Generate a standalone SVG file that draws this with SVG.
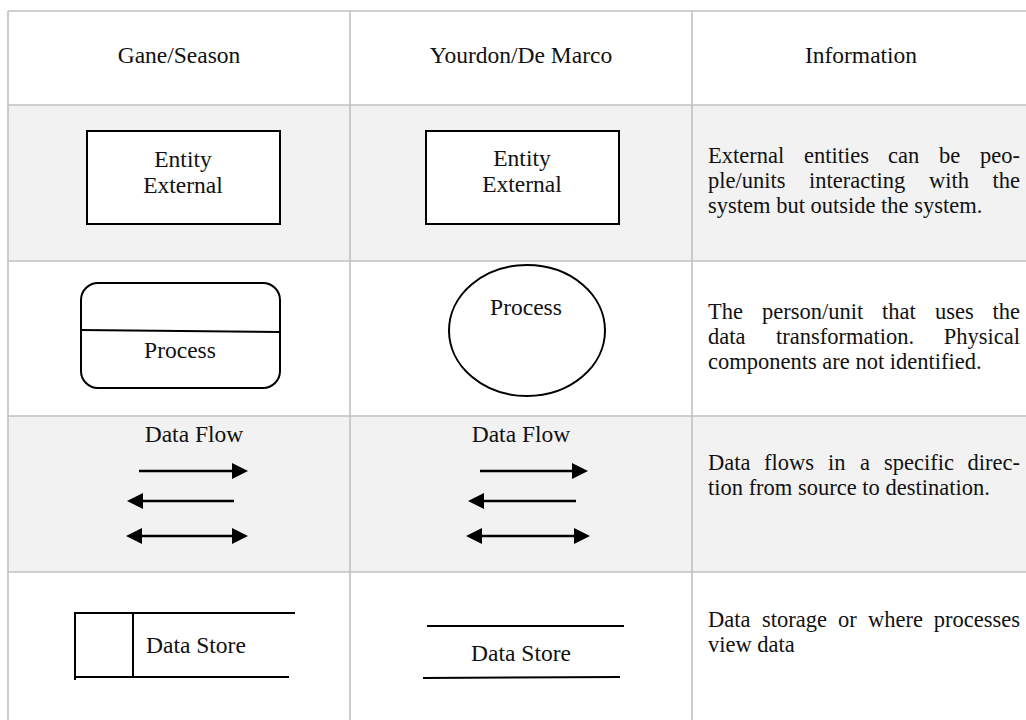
<svg xmlns="http://www.w3.org/2000/svg" width="1026" height="720" viewBox="0 0 1026 720">
  <style>
    text { font-family: "Liberation Serif", "Times New Roman", serif; font-size: 23.5px; fill: #111; }
    .c { text-anchor: middle; }
    .info { font-size: 22.5px; }
    .grid { stroke: #c0c0c0; stroke-width: 1.6; fill: none; }
    .shape { stroke: #000; stroke-width: 2; fill: #fff; }
    .ln { stroke: #000; stroke-width: 2; fill: none; }
    .flow { stroke: #000; stroke-width: 2.6; fill: none; }
  </style>
  <defs>
    <marker id="ah" viewBox="0 0 16 16" refX="6" refY="8" markerWidth="16" markerHeight="16" markerUnits="userSpaceOnUse" orient="auto-start-reverse">
      <path d="M0,0 L16,8 L0,16 z" fill="#000"/>
    </marker>
  </defs>

  <rect width="1026" height="720" fill="#fff"/>

  <g id="table">
    <rect x="8" y="105" width="1018" height="156" fill="#f2f2f2"/>
    <rect x="8" y="416" width="1018" height="156" fill="#f2f2f2"/>
    <line class="grid" x1="8" y1="11" x2="1026" y2="11"/>
    <line class="grid" x1="8" y1="105" x2="1026" y2="105"/>
    <line class="grid" x1="8" y1="261" x2="1026" y2="261"/>
    <line class="grid" x1="8" y1="416" x2="1026" y2="416"/>
    <line class="grid" x1="8" y1="572" x2="1026" y2="572"/>
    <line class="grid" x1="8" y1="11" x2="8" y2="720"/>
    <line class="grid" x1="350" y1="11" x2="350" y2="720"/>
    <line class="grid" x1="692" y1="11" x2="692" y2="720"/>
  </g>

  <g id="header">
    <text class="c" x="179" y="63">Gane/Season</text>
    <text class="c" x="521" y="63">Yourdon/De Marco</text>
    <text class="c" x="861" y="63">Information</text>
  </g>

  <g id="gane-entity">
    <rect class="shape" x="87" y="131" width="193" height="93"/>
    <text class="c" x="183" y="167">Entity</text>
    <text class="c" x="183" y="193">External</text>
  </g>
  <g id="yourdon-entity">
    <rect class="shape" x="426" y="131" width="193" height="93"/>
    <text class="c" x="522" y="166">Entity</text>
    <text class="c" x="522" y="192">External</text>
  </g>
  <g id="info-entity">
    <text class="info" y="163"><tspan x="708">External</tspan><tspan x="804">entities</tspan><tspan x="888">can</tspan><tspan x="939">be</tspan><tspan x="1020" text-anchor="end">peo-</tspan></text>
    <text class="info" y="188"><tspan x="708">ple/units</tspan><tspan x="809">interacting</tspan><tspan x="929">with</tspan><tspan x="1020" text-anchor="end">the</tspan></text>
    <text class="info" x="708" y="213">system but outside the system.</text>
  </g>

  <g id="gane-process">
    <rect class="shape" x="81" y="283" width="199" height="105" rx="17" ry="17"/>
    <line class="ln" x1="81" y1="330" x2="280" y2="332"/>
    <text class="c" x="180" y="358">Process</text>
  </g>
  <g id="yourdon-process">
    <ellipse class="shape" cx="527" cy="330.5" rx="78" ry="65.5"/>
    <text class="c" x="526" y="315">Process</text>
  </g>
  <g id="info-process">
    <text class="info" y="319"><tspan x="708">The</tspan><tspan x="762">person/unit</tspan><tspan x="882">that</tspan><tspan x="935">uses</tspan><tspan x="1020" text-anchor="end">the</tspan></text>
    <text class="info" y="344"><tspan x="708">data</tspan><tspan x="776">transformation.</tspan><tspan x="1020" text-anchor="end">Physical</tspan></text>
    <text class="info" x="708" y="369">components are not identified.</text>
  </g>

  <g id="gane-dataflow">
    <text class="c" x="194" y="442">Data Flow</text>
  </g>
  <g id="yourdon-dataflow">
    <text class="c" x="521" y="442">Data Flow</text>
  </g>
  <g id="connectors">
    <line class="flow" x1="139" y1="471" x2="238" y2="471" marker-end="url(#ah)"/>
    <line class="flow" x1="137" y1="501" x2="234" y2="501" marker-start="url(#ah)"/>
    <line class="flow" x1="136" y1="536" x2="238" y2="536" marker-start="url(#ah)" marker-end="url(#ah)"/>
    <line class="flow" x1="480" y1="471" x2="578" y2="471" marker-end="url(#ah)"/>
    <line class="flow" x1="478" y1="501" x2="576" y2="501" marker-start="url(#ah)"/>
    <line class="flow" x1="476" y1="536" x2="580" y2="536" marker-start="url(#ah)" marker-end="url(#ah)"/>
  </g>
  <g id="info-dataflow">
    <text class="info" y="470"><tspan x="708">Data</tspan><tspan x="764">flows</tspan><tspan x="828">in</tspan><tspan x="860">a</tspan><tspan x="884">specific</tspan><tspan x="1020" text-anchor="end">direc-</tspan></text>
    <text class="info" x="708" y="495">tion from source to destination.</text>
  </g>

  <g id="gane-datastore">
    <line class="ln" x1="75" y1="613" x2="295" y2="613"/>
    <line class="ln" x1="75" y1="677" x2="289" y2="677"/>
    <line class="ln" x1="75" y1="612" x2="75" y2="680"/>
    <line class="ln" x1="133" y1="613" x2="133" y2="677"/>
    <text x="146" y="653">Data Store</text>
  </g>
  <g id="yourdon-datastore">
    <line class="ln" x1="427" y1="626" x2="624" y2="626"/>
    <line class="ln" x1="423" y1="678" x2="620" y2="677"/>
    <text class="c" x="521" y="661">Data Store</text>
  </g>
  <g id="info-datastore">
    <text class="info" y="627"><tspan x="708">Data</tspan><tspan x="762">storage</tspan><tspan x="838">or</tspan><tspan x="868">where</tspan><tspan x="1020" text-anchor="end">processes</tspan></text>
    <text class="info" x="708" y="652">view data</text>
  </g>
</svg>
